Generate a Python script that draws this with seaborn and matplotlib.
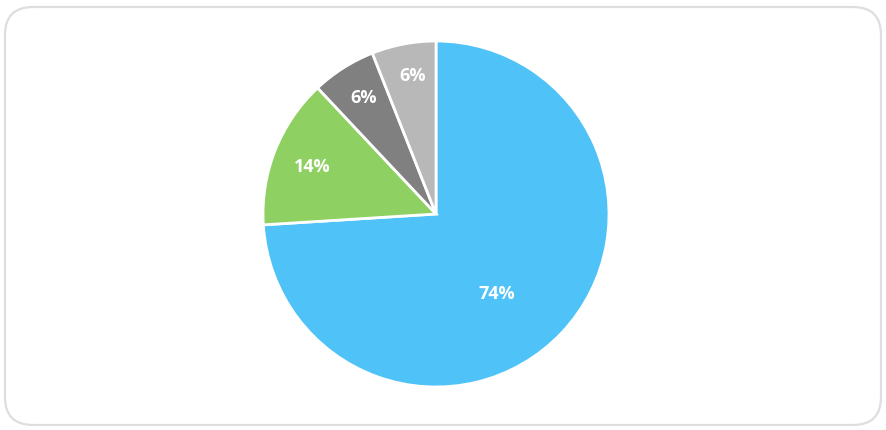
import matplotlib
matplotlib.use("Agg")
import matplotlib.pyplot as plt
import seaborn as sns
import numpy as np
from matplotlib.patches import FancyBboxPatch

categories = ["A", "B", "C", "D"]
values = [74, 14, 6, 6]
labels = ["74%", "14%", "6%", "6%"]
colors = ["#4FC3F7", "#8ED162", "#808080", "#B8B8B8"]

sns.set_theme(style="white")
plt.rcParams['font.family'] = ['Open Sans', 'DejaVu Sans']
palette = sns.color_palette(colors)

W, H = 886, 430
fig = plt.figure(figsize=(W / 100, H / 100), dpi=100)
fig.patch.set_facecolor("white")

# background frame
bg = fig.add_axes([0, 0, 1, 1])
bg.set_xlim(0, W)
bg.set_ylim(H, 0)
bg.axis("off")
bg.add_patch(FancyBboxPatch((5, 7), W - 10, H - 12,
                            boxstyle="round,pad=0,rounding_size=28",
                            facecolor="white", edgecolor="#DEDEDE", linewidth=1.6))

cx, cy, r = 436, 214, 173
ax = fig.add_axes([(cx - r) / W, (H - cy - r) / H, 2 * r / W, 2 * r / H])
wedges, _ = ax.pie(values, colors=palette, startangle=90, counterclock=False,
                   radius=1, wedgeprops=dict(edgecolor="white", linewidth=2))
ax.set_xlim(-1, 1)
ax.set_ylim(-1, 1)
ax.set_aspect("equal")
ax.axis("off")

# label placement (radial factor, angle offset in degrees)
label_style = [(0.57, -9), (0.77, 0), (0.80, -1), (0.82, -1.5)]
for w, lab, (rf, off) in zip(wedges, labels, label_style):
    ang = np.deg2rad((w.theta1 + w.theta2) / 2 + off)
    ax.text(rf * np.cos(ang), rf * np.sin(ang) - 0.01, lab, ha="center", va="center",
            color="white", fontsize=13, fontweight="bold")

fig.savefig("out.png", dpi=100, facecolor="white")
